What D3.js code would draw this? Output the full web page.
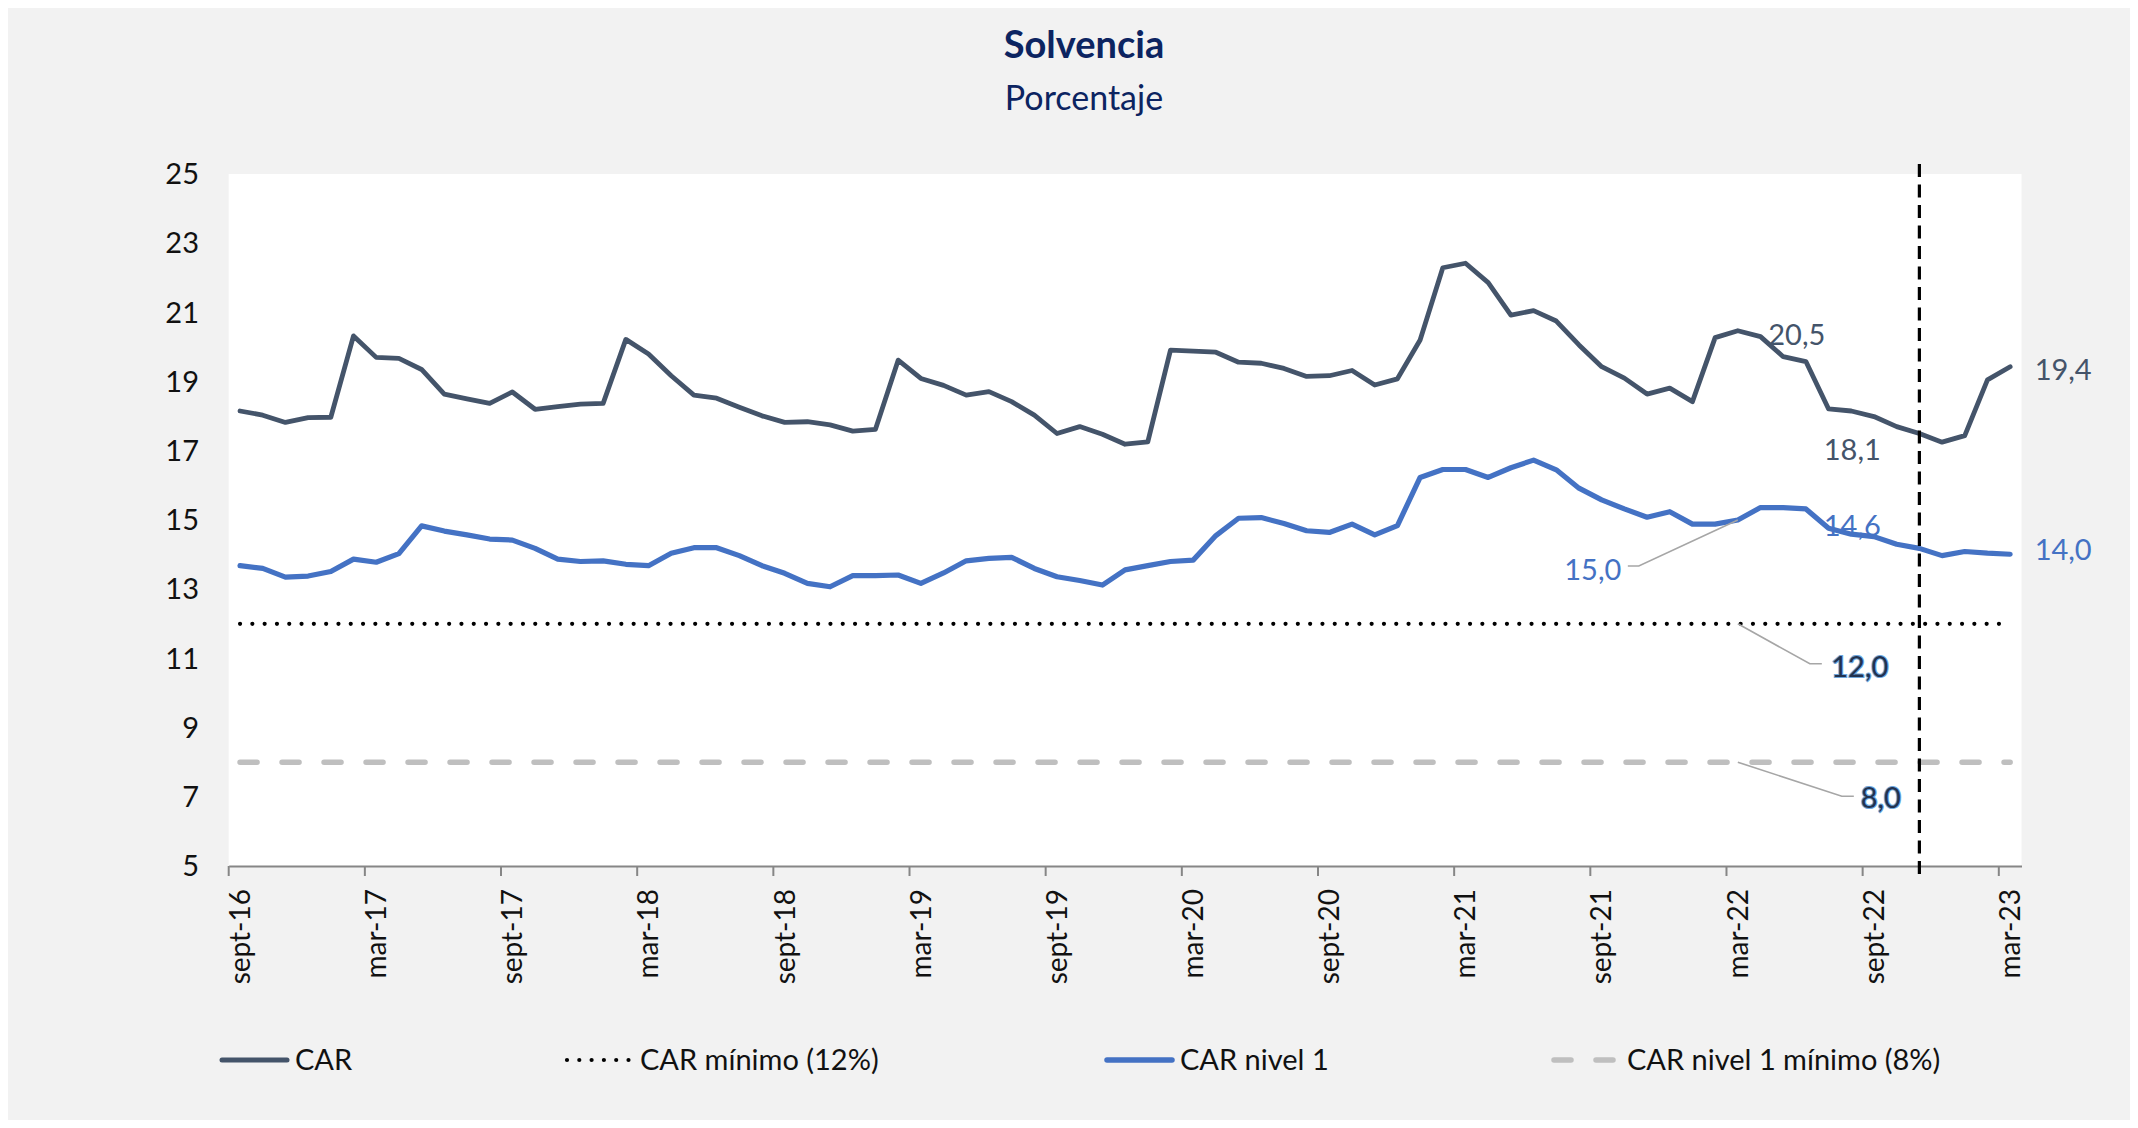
<!DOCTYPE html>
<html>
<head>
<meta charset="utf-8">
<script src="https://cdn.jsdelivr.net/npm/d3@7/dist/d3.min.js"></script>
<style>
body { margin: 0; background: #fff; }
text { font-family: Lato, "Noto Sans", sans-serif; }
</style>
</head>
<body>
<script>
// month names, series starts in sept-16
var monthNames = ["sept", "oct", "nov", "dic", "ene", "feb", "mar", "abr", "may", "jun", "jul", "ago"];
var firstYear = 16;

// CAR (%), sept-16 .. mar-23
var car = [18.15, 18.03, 17.82, 17.96, 17.97, 20.32, 19.70, 19.67, 19.35, 18.64, 18.50, 18.37,
           18.70, 18.20, 18.28, 18.35, 18.37, 20.22, 19.80, 19.17, 18.61, 18.52, 18.26, 18.01,
           17.82, 17.84, 17.75, 17.57, 17.62, 19.62, 19.09, 18.89, 18.61, 18.71, 18.42, 18.03,
           17.50, 17.70, 17.48, 17.19, 17.26, 19.91, 19.88, 19.85, 19.56, 19.53, 19.38, 19.15,
           19.17, 19.32, 18.90, 19.08, 20.20, 22.29, 22.42, 21.86, 20.92, 21.05, 20.75, 20.06,
           19.43, 19.10, 18.64, 18.81, 18.42, 20.27, 20.47, 20.30, 19.72, 19.58, 18.21, 18.15,
           17.99, 17.70, 17.50, 17.25, 17.44, 19.05, 19.43];

// CAR nivel 1 (%)
var carN1 = [13.68, 13.60, 13.35, 13.38, 13.51, 13.87, 13.78, 14.03, 14.83, 14.68, 14.57, 14.45,
             14.42, 14.18, 13.87, 13.80, 13.82, 13.72, 13.68, 14.04, 14.20, 14.20, 13.97, 13.68,
             13.46, 13.17, 13.07, 13.39, 13.39, 13.41, 13.17, 13.47, 13.82, 13.89, 13.92, 13.60,
             13.36, 13.25, 13.12, 13.56, 13.68, 13.80, 13.84, 14.55, 15.05, 15.07, 14.90, 14.69,
             14.64, 14.88, 14.57, 14.84, 16.23, 16.46, 16.46, 16.23, 16.51, 16.73, 16.45, 15.92,
             15.58, 15.32, 15.08, 15.24, 14.88, 14.88, 15.00, 15.36, 15.36, 15.32, 14.76, 14.59,
             14.52, 14.30, 14.18, 13.97, 14.09, 14.04, 14.01];

var carMin = 12;
var carN1Min = 8;
var yTicks = [5, 7, 9, 11, 13, 15, 17, 19, 21, 23, 25];
var cutMonth = "nov-22";

// category labels
var months = car.map(function(d, i) {
    return monthNames[i % 12] + "-" + (firstYear + Math.floor((i + 8) / 12));
});

var W = 2138, H = 1128;
var plot = {left: 228.7, top: 174, right: 2021.5, bottom: 866};

var svg = d3.select("body").append("svg")
    .attr("width", W)
    .attr("height", H);

// background + plot area
svg.append("rect").attr("x", 8).attr("y", 8).attr("width", 2122).attr("height", 1112).attr("fill", "#f2f2f2");
svg.append("rect")
    .attr("x", plot.left).attr("y", plot.top)
    .attr("width", plot.right - plot.left).attr("height", plot.bottom - plot.top)
    .attr("fill", "#fff");

var xScale = d3.scaleBand().domain(months).range([plot.left, plot.right]).padding(0);
var bw = xScale.bandwidth();
var xMid = function(m) { return xScale(m) + bw / 2; };
var yScale = d3.scaleLinear().domain([5, 25]).range([plot.bottom, plot.top]);

// titles
svg.append("text").attr("x", 1084).attr("y", 58)
    .attr("text-anchor", "middle").attr("font-size", 38).attr("font-weight", "bold")
    .attr("fill", "#0c2461").text("Solvencia");
svg.append("text").attr("x", 1084).attr("y", 110)
    .attr("text-anchor", "middle").attr("font-size", 34)
    .attr("fill", "#0c2461").text("Porcentaje");

// y labels (no axis line)
svg.append("g").selectAll("text")
    .data(yTicks).enter().append("text")
    .attr("x", 199)
    .attr("y", function(d) { return yScale(d); })
    .attr("dy", "0.35em")
    .attr("text-anchor", "end")
    .attr("font-size", 29)
    .attr("fill", "#111")
    .text(function(d) { return d; });

// x axis
var labelled = months.filter(function(d, i) { return i % 6 === 0; });
var xAxis = d3.axisBottom(xScale).tickValues(labelled).tickSize(0).tickSizeOuter(0);
var gx = svg.append("g")
    .attr("transform", "translate(0," + plot.bottom + ")")
    .call(xAxis);
gx.select(".domain").attr("stroke", "#868686").attr("stroke-width", 2);
gx.selectAll(".tick text")
    .attr("transform", "rotate(-90)")
    .attr("x", -23).attr("y", 0).attr("dy", "0.35em")
    .attr("text-anchor", "end")
    .attr("font-size", 28)
    .attr("font-family", "Lato, sans-serif")
    .attr("fill", "#111");

// tick marks sit on category boundaries
svg.append("g").selectAll("line")
    .data(labelled).enter().append("line")
    .attr("x1", function(d) { return xScale(d); })
    .attr("x2", function(d) { return xScale(d); })
    .attr("y1", plot.bottom).attr("y2", plot.bottom + 10)
    .attr("stroke", "#868686").attr("stroke-width", 2);

// reference lines
var flat = function(v) {
    return d3.line().x(function(m) { return xMid(m); }).y(function() { return yScale(v); });
};
svg.append("path").datum(months)
    .attr("d", flat(carN1Min))
    .attr("fill", "none").attr("stroke", "#bfbfbf").attr("stroke-width", 5.5)
    .attr("stroke-linecap", "round").attr("stroke-dasharray", "17 25");
svg.append("path").datum(months)
    .attr("d", flat(carMin))
    .attr("fill", "none").attr("stroke", "#000").attr("stroke-width", 4.2)
    .attr("stroke-linecap", "round").attr("stroke-dasharray", "0 12.3");

// series
var line = d3.line()
    .x(function(d, i) { return xMid(months[i]); })
    .y(function(d) { return yScale(d); });
svg.append("path").datum(carN1)
    .attr("d", line)
    .attr("fill", "none").attr("stroke", "#4472c4").attr("stroke-width", 5.2)
    .attr("stroke-linejoin", "round").attr("stroke-linecap", "round");
svg.append("path").datum(car)
    .attr("d", line)
    .attr("fill", "none").attr("stroke", "#44546a").attr("stroke-width", 4.8)
    .attr("stroke-linejoin", "round").attr("stroke-linecap", "round");

// vertical cut
svg.append("line")
    .attr("x1", xMid(cutMonth)).attr("x2", xMid(cutMonth))
    .attr("y1", 164).attr("y2", 874)
    .attr("stroke", "#000").attr("stroke-width", 3.2).attr("stroke-dasharray", "13 7.5");

// data labels
var notes = [
    {i: 66, v: car[66], t: "20,5", c: "#44546a", dx: 59, dy: 14},
    {i: 71, v: car[71], t: "18,1", c: "#44546a", dx: 1, dy: 49},
    {i: 78, v: car[78], t: "19,4", c: "#44546a", dx: 53, dy: 13},
    {i: 71, v: carN1[71], t: "14,6", c: "#4472c4", dx: 1, dy: 2},
    {i: 78, v: carN1[78], t: "14,0", c: "#4472c4", dx: 53, dy: 6},
    {i: 66, v: carN1[66], t: "15,0", c: "#4472c4", dx: -145, dy: 60, lead: [[-99, 46], [-110, 46]]},
    {i: 66, v: carMin, t: "12,0", c: "#22324f", dx: 122, dy: 53, halo: true, lead: [[72, 40], [84, 40]]},
    {i: 66, v: carN1Min, t: "8,0", c: "#22324f", dx: 143, dy: 46, halo: true, lead: [[104, 34], [116, 34]]}
];

notes.forEach(function(n) {
    var px = xMid(months[n.i]), py = yScale(n.v);
    if (n.lead) {
        var pts = [[px, py]].concat(n.lead.map(function(p) { return [px + p[0], py + p[1]]; }));
        svg.append("path").attr("d", d3.line()(pts))
            .attr("fill", "none").attr("stroke", "#a6a6a6").attr("stroke-width", 1.6);
    }
    var t = svg.append("text")
        .attr("x", px + n.dx).attr("y", py + n.dy)
        .attr("text-anchor", "middle")
        .attr("font-size", 29)
        .attr("fill", n.c)
        .text(n.t);
    if (n.halo) {
        t.attr("stroke", "#6ea6dc").attr("stroke-width", 2.2).attr("paint-order", "stroke");
    }
});

// legend
var legendY = 1060;
var lg = svg.append("g");
var legendItems = [
    {x: 220, label: "CAR", stroke: "#44546a", w: 5, dash: null},
    {x: 565, label: "CAR mínimo (12%)", stroke: "#000", w: 4.2, dash: "0 12.3"},
    {x: 1105, label: "CAR nivel 1", stroke: "#4472c4", w: 5.5, dash: null},
    {x: 1552, label: "CAR nivel 1 mínimo (8%)", stroke: "#bfbfbf", w: 5.5, dash: "17 25"}
];
legendItems.forEach(function(d) {
    lg.append("line")
        .attr("x1", d.x + 2).attr("x2", d.x + 67)
        .attr("y1", legendY).attr("y2", legendY)
        .attr("stroke", d.stroke).attr("stroke-width", d.w)
        .attr("stroke-linecap", "round")
        .attr("stroke-dasharray", d.dash);
    lg.append("text")
        .attr("x", d.x + 75).attr("y", legendY).attr("dy", "0.36em")
        .attr("font-size", 29).attr("fill", "#111")
        .text(d.label);
});
</script>
</body>
</html>
